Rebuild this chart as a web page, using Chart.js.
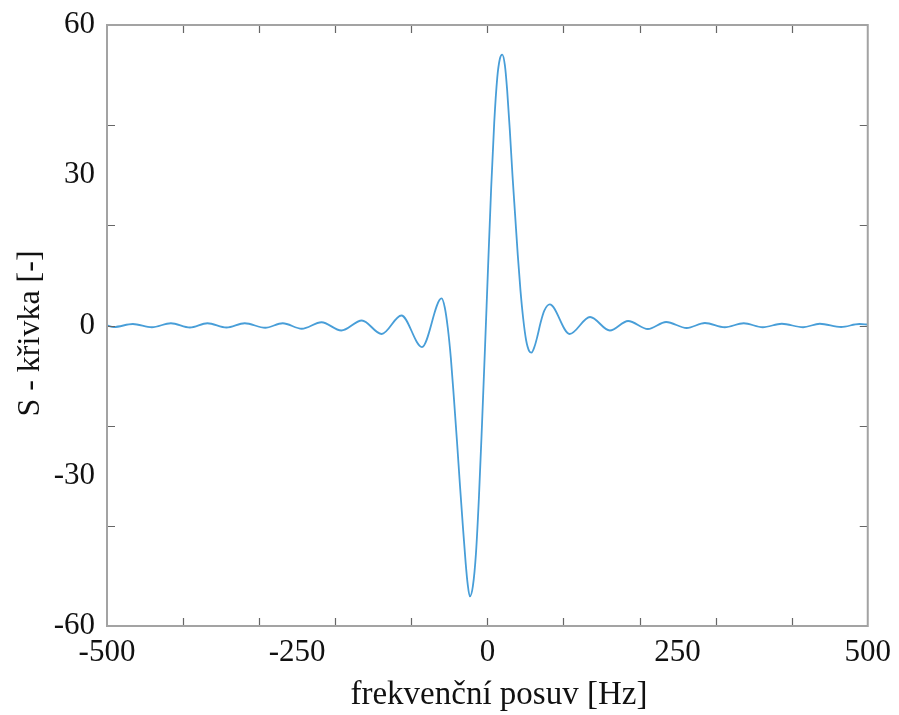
<!DOCTYPE html>
<html>
<head>
<meta charset="utf-8">
<script src="https://cdn.jsdelivr.net/npm/chart.js@4.4.1/dist/chart.umd.min.js"></script>
<style>
  html, body { margin: 0; padding: 0; background: #fff; }
  #box { width: 899px; height: 715px; }
</style>
</head>
<body>
<div id="box"><canvas id="myChart" width="899" height="715"></canvas></div>
<script>
// frequency offset [Hz] and S-curve value
const freqHz = [
  -500, -491, -466, -441, -416, -391, -368, -343, -319, -292,
  -269, -244, -218, -192, -165, -139, -113, -86, -60.2, -56,
  -52, -48, -44, -40, -36, -32, -28.5, -26, -23, -19,
  -15, -11, -7, -3, 1, 5, 9, 13, 16.5, 19.5,
  23, 26, 29.5, 33, 36.5, 40, 43.5, 47, 51, 55,
  58, 62, 66, 70, 75, 82, 108, 135, 161, 185,
  211, 235, 262, 286, 312, 337, 362, 387, 415, 437,
  465, 489, 500
];
const sCurve = [
  0.0, -0.3, 0.3, -0.35, 0.45, -0.4, 0.45, -0.4, 0.45, -0.45,
  0.45, -0.65, 0.65, -1.0, 1.0, -1.7, 2.0, -4.3, 5.4, 3.6,
  -0.5, -6.5, -14.5, -23, -32, -40.5, -47.5, -51.5, -54.1, -52,
  -45.5, -34, -19.5, -4, 12, 27.5, 40.5, 49.5, 53.3, 54.1,
  52, 47, 39, 30, 22, 14, 7, 1.5, -3, -5.1,
  -5.4, -4.2, -2, 0.6, 3, 4.2, -1.7, 1.7, -1.0, 0.9,
  -0.7, 0.7, -0.5, 0.5, -0.35, 0.45, -0.35, 0.35, -0.35, 0.35,
  -0.3, 0.3, 0.2
];

const xLabels = [-500, -250, 0, 250, 500];
const yLabels = [60, 30, 0, -30, -60];
const xMinorTicks = [-400, -300, -200, -100, 0, 100, 200, 300, 400];
const yMinorTicks = [40, 20, 0, -20, -40];

const serif = "'Liberation Serif', 'Times New Roman', serif";

// MATLAB-like box with inward ticks on all four sides
const boxTicks = {
  id: 'boxTicks',
  afterDatasetsDraw(chart) {
    const {ctx, chartArea: a, scales} = chart;
    const len = 8;
    ctx.save();
    ctx.strokeStyle = '#666';
    ctx.lineWidth = 1.2;
    ctx.beginPath();
    xMinorTicks.forEach(v => {
      const px = Math.round(scales.x.getPixelForValue(v)) + 0.5;
      ctx.moveTo(px, a.bottom); ctx.lineTo(px, a.bottom - len);
      ctx.moveTo(px, a.top); ctx.lineTo(px, a.top + len);
    });
    yMinorTicks.forEach(v => {
      const py = Math.round(scales.y.getPixelForValue(v)) + 0.5;
      ctx.moveTo(a.left, py); ctx.lineTo(a.left + len, py);
      ctx.moveTo(a.right, py); ctx.lineTo(a.right - len, py);
    });
    ctx.stroke();
    ctx.strokeStyle = '#a3a3a3';
    ctx.lineWidth = 2;
    ctx.strokeRect(a.left, a.top, a.right - a.left, a.bottom - a.top);
    ctx.restore();
  }
};

const points = freqHz.map((f, i) => ({x: f, y: sCurve[i]}));

new Chart(document.getElementById('myChart'), {
  type: 'line',
  data: {
    datasets: [{
      data: points,
      borderColor: 'rgb(72,158,216)',
      borderWidth: 1.8,
      pointRadius: 0,
      cubicInterpolationMode: 'monotone',
      fill: false
    }]
  },
  options: {
    responsive: false,
    animation: false,
    devicePixelRatio: 1,
    layout: { padding: { top: 25, right: 31, left: 0, bottom: 0 } },
    plugins: { legend: { display: false }, tooltip: { enabled: false } },
    scales: {
      x: {
        type: 'linear',
        min: -500, max: 500,
        afterBuildTicks: s => { s.ticks = xLabels.map(v => ({value: v})); },
        afterFit: s => { s.height = 89; },
        grid: { display: false, drawTicks: false },
        border: { display: false },
        ticks: {
          padding: 8, maxRotation: 0, autoSkip: false,
          color: '#111', font: { family: serif, size: 31 }
        },
        title: {
          display: true, text: '\u2002\u2009frekvenční posuv [Hz]', color: '#111',
          font: { family: serif, size: 33 }, padding: { top: 0, bottom: 0 }
        }
      },
      y: {
        min: -60, max: 60,
        afterBuildTicks: s => { s.ticks = yLabels.map(v => ({value: v})); },
        afterFit: s => { s.width = 107; },
        grid: { display: false, drawTicks: false },
        border: { display: false },
        ticks: {
          padding: 12, autoSkip: false,
          color: '#111', font: { family: serif, size: 31, lineHeight: 0.8 }
        },
        title: {
          display: true, text: 'S - křivka [-]\u2002', color: '#111',
          font: { family: serif, size: 32 }, padding: { top: 11, bottom: 0 }
        }
      }
    }
  },
  plugins: [boxTicks]
});
</script>
</body>
</html>
